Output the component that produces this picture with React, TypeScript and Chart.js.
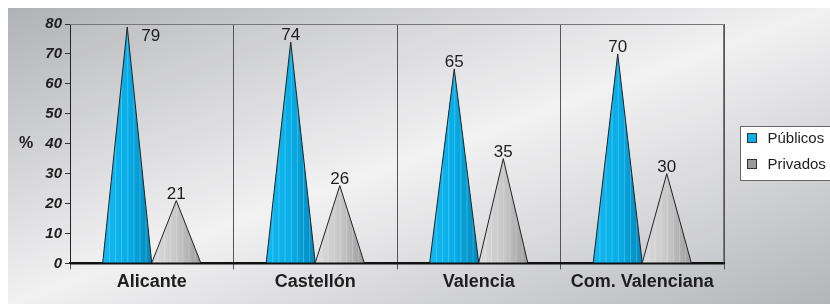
import { useEffect, useRef } from 'react';
import { Chart, registerables } from 'chart.js';

Chart.register(...registerables);

const categories = ['Alicante', 'Castellón', 'Valencia', 'Com. Valenciana'];
const seriesNames = ['Públicos', 'Privados'];
const publicos = [79, 74, 65, 70];
const privados = [21, 26, 35, 30];
const yMin = 0;
const yMax = 80;
const yStep = 10;

const FONT = "'Liberation Sans', Arial, Helvetica, sans-serif";

const fills = [
  [
    [0, '#12b8f0'],
    [0.5, '#08aee8'],
    [1, '#0088bc'],
  ],
  [
    [0, '#dcdcdc'],
    [0.5, '#c8c8c8'],
    [1, '#9c9c9c'],
  ],
];
const swatchColors = ['#12aee6', '#9a9a9a'];

const backgroundPlugin = {
  id: 'bgGradient',
  beforeDraw(chart: any) {
    const { ctx, width: w, height: h, chartArea: a } = chart;
    const len = Math.sqrt(w * w + h * h);
    const nx = h / len;
    const ny = w / len;
    const d = (w * h) / len;
    const cx = w / 2;
    const cy = h / 2;
    const g = ctx.createLinearGradient(cx - nx * d, cy - ny * d, cx + nx * d, cy + ny * d);
    g.addColorStop(0, '#b1b2b6');
    g.addColorStop(0.5, '#f1f1f2');
    g.addColorStop(1, '#b4b5b9');
    ctx.save();
    ctx.fillStyle = g;
    ctx.fillRect(0, 0, w, h);
    ctx.fillStyle = 'rgba(255,255,255,0.08)';
    ctx.fillRect(a.left, a.top, a.right - a.left, a.bottom - a.top);
    ctx.restore();
  },
};

const trianglePlugin = {
  id: 'triangles',
  afterDatasetsDraw(chart: any) {
    const { ctx, chartArea: a } = chart;
    chart.data.datasets.forEach((ds: any, di: number) => {
      const meta = chart.getDatasetMeta(di);
      meta.data.forEach((el: any) => {
        const { x, y, base, width } = el.getProps(['x', 'y', 'base', 'width'], true);
        const l = x - width / 2;
        const r = x + width / 2;
        ctx.save();
        ctx.beginPath();
        ctx.moveTo(l, base);
        ctx.lineTo(x, y);
        ctx.lineTo(r, base);
        ctx.closePath();
        const g = ctx.createLinearGradient(l, 0, r, 0);
        fills[di].forEach(([o, c]: any) => g.addColorStop(o, c));
        ctx.fillStyle = g;
        ctx.fill();
        ctx.save();
        ctx.clip();
        ctx.strokeStyle = 'rgba(255,255,255,0.22)';
        ctx.lineWidth = 1;
        for (let k = 1; k < 8; k++) {
          const sx = l + (width * k) / 8 + 0.5;
          ctx.beginPath();
          ctx.moveTo(sx, base);
          ctx.lineTo(sx, y);
          ctx.stroke();
        }
        ctx.restore();
        ctx.beginPath();
        ctx.moveTo(l, base);
        ctx.lineTo(x, y);
        ctx.lineTo(r, base);
        ctx.strokeStyle = '#222';
        ctx.lineWidth = 1;
        ctx.stroke();
        ctx.restore();
      });
    });

    // value labels
    ctx.save();
    ctx.font = `17px ${FONT}`;
    ctx.fillStyle = '#1e1e1e';
    chart.data.datasets.forEach((ds: any, di: number) => {
      const meta = chart.getDatasetMeta(di);
      meta.data.forEach((el: any, i: number) => {
        const { x, y } = el.getProps(['x', 'y'], true);
        const text = String(ds.data[i]);
        if (y - 2 - 13 < a.top) {
          ctx.textAlign = 'left';
          ctx.textBaseline = 'top';
          ctx.fillText(text, x + 14, y + 1);
        } else {
          ctx.textAlign = 'center';
          ctx.textBaseline = 'alphabetic';
          ctx.fillText(text, x, y - 2);
        }
      });
    });
    ctx.restore();

    // frame: top & right gray, bottom black
    ctx.save();
    ctx.strokeStyle = '#777';
    ctx.lineWidth = 1;
    ctx.beginPath();
    ctx.moveTo(a.left, a.top + 0.5);
    ctx.lineTo(a.right - 0.5, a.top + 0.5);
    ctx.lineTo(a.right - 0.5, a.bottom);
    ctx.stroke();
    ctx.strokeStyle = '#111';
    ctx.lineWidth = 2;
    ctx.beginPath();
    ctx.moveTo(a.left, a.bottom);
    ctx.lineTo(a.right, a.bottom);
    ctx.stroke();
    ctx.restore();
  },
  afterDraw(chart: any) {
    const { ctx, chartArea: a, height } = chart;
    ctx.save();
    // % label
    ctx.font = `bold 16px ${FONT}`;
    ctx.fillStyle = '#1e1e1e';
    ctx.textAlign = 'center';
    ctx.textBaseline = 'middle';
    ctx.fillText('%', a.left - 44, (a.top + a.bottom) / 2);

    // legend
    const lx = a.right + 16.5;
    const ly = height / 2 - 29.5;
    ctx.fillStyle = '#ffffff';
    ctx.fillRect(lx, ly, 200, 54);
    ctx.strokeStyle = '#666';
    ctx.lineWidth = 1;
    ctx.strokeRect(lx, ly, 200, 54);
    ctx.font = `15px ${FONT}`;
    ctx.textAlign = 'left';
    seriesNames.forEach((name, i) => {
      const sy = ly + 7 + i * 26;
      ctx.fillStyle = swatchColors[i];
      ctx.fillRect(lx + 7, sy, 9, 9);
      ctx.strokeStyle = '#333';
      ctx.strokeRect(lx + 7, sy, 9, 9);
      ctx.fillStyle = '#1e1e1e';
      ctx.textBaseline = 'middle';
      ctx.fillText(name, lx + 27, sy + 5);
    });
    ctx.restore();
  },
};

export default function App() {
  const ref = useRef<HTMLCanvasElement | null>(null);
  useEffect(() => {
    if (!ref.current) return;
    const chart = new Chart(ref.current, {
      type: 'bar',
      data: {
        labels: categories,
        datasets: [
          { label: seriesNames[0], data: publicos, backgroundColor: 'rgba(0,0,0,0)', borderWidth: 0 },
          { label: seriesNames[1], data: privados, backgroundColor: 'rgba(0,0,0,0)', borderWidth: 0 },
        ],
      },
      options: {
        responsive: false,
        animation: false,
        layout: { padding: { left: 0, right: 106, top: 16, bottom: 9 } },
        plugins: { legend: { display: false }, tooltip: { enabled: false } },
        datasets: { bar: { categoryPercentage: 0.6, barPercentage: 1 } },
        scales: {
          x: {
            offset: true,
            grid: {
              offset: true,
              drawOnChartArea: true,
              color: '#555',
              tickColor: '#555',
              tickLength: 6,
              lineWidth: 1,
            },
            border: { display: true, color: '#111', width: 2 },
            ticks: {
              color: '#1e1e1e',
              font: { family: FONT, size: 18, weight: 'bold' },
              padding: 2,
            },
          },
          y: {
            min: yMin,
            max: yMax,
            afterFit: (scale: any) => {
              scale.width = 62;
            },
            grid: { drawOnChartArea: false, drawTicks: true, tickLength: 5, tickColor: '#333' },
            border: { display: true, color: '#222', width: 1 },
            ticks: {
              stepSize: yStep,
              color: '#1e1e1e',
              font: { family: FONT, size: 15, weight: 'bold', style: 'italic' },
              padding: 3,
            },
          },
        },
      },
      plugins: [backgroundPlugin, trianglePlugin],
    } as any);
    return () => chart.destroy();
  }, []);
  return (
    <div style={{ position: 'absolute', left: 8, top: 8, width: 822, height: 296 }}>
      <canvas ref={ref} width={822} height={296} style={{ display: 'block' }} />
    </div>
  );
}
